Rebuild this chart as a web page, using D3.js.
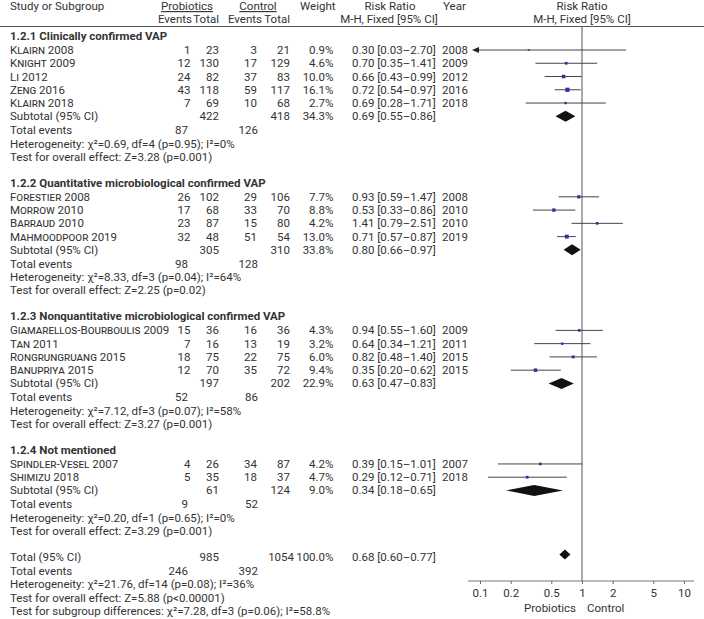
<!DOCTYPE html>
<html>
<head>
<meta charset="utf-8">
<script src="https://cdn.jsdelivr.net/npm/d3@7"></script>
<style>
  body { margin: 0; background: #fff; }
  text { font-family: Roboto, "Noto Sans", sans-serif; font-size: 11.5px; fill: #333; }
  .sc { font-variant: small-caps; }
</style>
</head>
<body>
<div id="wrapper"></div>
<script>
// subgroups
const groupNames = [
  "1.2.1 Clinically confirmed VAP",
  "1.2.2 Quantitative microbiological confirmed VAP",
  "1.2.3 Nonquantitative microbiological confirmed VAP",
  "1.2.4 Not mentioned"
];

// studies
const studyGroup  = [0, 0, 0, 0, 0, 1, 1, 1, 1, 2, 2, 2, 2, 3, 3];
const studyAuthor = ["Klairn", "Knight", "Li", "Zeng", "Klairn", "Forestier", "Morrow", "Barraud", "Mahmoodpoor",
                     "Giamarellos-Bourboulis", "Tan", "Rongrungruang", "Banupriya", "Spindler-Vesel", "Shimizu"];
const studyYear   = [2008, 2009, 2012, 2016, 2018, 2008, 2010, 2010, 2019, 2009, 2011, 2015, 2015, 2007, 2018];
const probEvents  = [1, 12, 24, 43, 7, 26, 17, 23, 32, 15, 7, 18, 12, 4, 5];
const probTotal   = [23, 130, 82, 118, 69, 102, 68, 87, 48, 36, 16, 75, 70, 26, 35];
const ctrlEvents  = [3, 17, 37, 59, 10, 29, 33, 15, 51, 16, 13, 22, 35, 34, 18];
const ctrlTotal   = [21, 129, 83, 117, 68, 106, 70, 80, 54, 36, 19, 75, 72, 87, 37];
const weight      = [0.9, 4.6, 10.0, 16.1, 2.7, 7.7, 8.8, 4.2, 13.0, 4.3, 3.2, 6.0, 9.4, 4.2, 4.7];
const rr          = [0.30, 0.70, 0.66, 0.72, 0.69, 0.93, 0.53, 1.41, 0.71, 0.94, 0.64, 0.82, 0.35, 0.39, 0.29];
const rrLo        = [0.03, 0.35, 0.43, 0.54, 0.28, 0.59, 0.33, 0.79, 0.57, 0.55, 0.34, 0.48, 0.20, 0.15, 0.12];
const rrHi        = [2.70, 1.41, 0.99, 0.97, 1.71, 1.47, 0.86, 2.51, 0.87, 1.60, 1.21, 1.40, 0.62, 1.01, 0.71];

// subtotals
const subProbTotal  = [422, 305, 197, 61];
const subCtrlTotal  = [418, 310, 202, 124];
const subWeight     = [34.3, 33.8, 22.9, 9.0];
const subRR         = [0.69, 0.80, 0.63, 0.34];
const subLo         = [0.55, 0.66, 0.47, 0.18];
const subHi         = [0.86, 0.97, 0.83, 0.65];
const subProbEvents = [87, 98, 52, 9];
const subCtrlEvents = [126, 128, 86, 52];
const hetChi = ["0.69", "8.33", "7.12", "0.20"];
const hetDf  = [4, 3, 3, 1];
const hetP   = ["0.95", "0.04", "0.07", "0.65"];
const hetI2  = ["0", "64", "58", "0"];
const effZ   = ["3.28", "2.25", "3.27", "3.29"];
const effP   = ["p=0.001", "p=0.02", "p=0.001", "p=0.001"];

// overall
const totProbTotal = 985, totCtrlTotal = 1054, totWeight = "100.0";
const totRR = [0.68, 0.60, 0.77];
const totEvents = [246, 392];
const totHet = ["21.76", 14, "0.08", "36"];
const totEff = ["5.88", "p<0.00001"];
const subDiff = ["7.28", 3, "0.06", "58.8"];

// axis
const tickValues = [0.1, 0.2, 0.5, 1, 2, 5, 10];
const tickLabels = ["0.1", "0.2", "0.5", "1", "2", "5", "10"];

const W = 704, H = 619;
const svg = d3.select("#wrapper").append("svg").attr("width", W).attr("height", H);
svg.append("rect").attr("width", W).attr("height", H).attr("fill", "#fff");

const x = d3.scaleLog().domain([0.1, 10]).range([480, 684]);
const sq = d3.scaleSqrt().domain([0, 16.1]).range([1, 4.2]);
const f2 = v => v.toFixed(2);
const ci = (a, b, c) => `${f2(a)} [${f2(b)}–${f2(c)}]`;

// columns
const col = { name: 10, pe: 190.5, pt: 219, ce: 257, ct: 290, w: 333.5, rr: 352, yr: 442 };

function txt(xp, yp, s, anchor) {
  return svg.append("text").attr("x", xp).attr("y", yp).attr("dy", "0.35em")
    .attr("text-anchor", anchor || "start").text(s);
}

// header
txt(col.name, 6, "Study or Subgroup");
txt(187, 6, "Probiotics", "middle").style("text-decoration", "underline");
txt(258, 6, "Control", "middle").style("text-decoration", "underline");
txt(300, 6, "Weight");
txt(390, 6, "Risk Ratio", "middle");
txt(443, 6, "Year");
txt(582, 6, "Risk Ratio", "middle");
txt(192, 19, "Events", "end");
txt(col.pt, 19, "Total", "end");
txt(262, 19, "Events", "end");
txt(col.ct, 19, "Total", "end");
txt(389, 19, "M-H, Fixed [95% CI]", "middle");
txt(582, 19, "M-H, Fixed [95% CI]", "middle");

svg.append("line").attr("x1", 0).attr("x2", W).attr("y1", 26.5).attr("y2", 26.5)
  .attr("stroke", "#555").attr("stroke-width", 1);

// no-effect line
svg.append("line").attr("x1", x(1)).attr("x2", x(1)).attr("y1", 27).attr("y2", 581)
  .attr("stroke", "#555").attr("stroke-width", 1);

const plot = svg.append("g");

function diamond(yp, lo, mid, hi, h) {
  plot.append("path")
    .attr("d", `M${x(lo)},${yp} L${x(mid)},${yp - h} L${x(hi)},${yp} L${x(mid)},${yp + h} Z`)
    .attr("fill", "#111");
}

const step = 13.26;
let y = 36;

groupNames.forEach((g, gi) => {
  txt(col.name, y, g).attr("font-weight", "bold");
  y += 14;
  d3.range(studyGroup.length).filter(i => studyGroup[i] === gi).forEach(i => {
    const t = txt(col.name, y, "");
    t.append("tspan").attr("class", "sc").text(studyAuthor[i]);
    t.append("tspan").text(" " + studyYear[i]);
    txt(col.pe, y, probEvents[i], "end");
    txt(col.pt, y, probTotal[i], "end");
    txt(col.ce, y, ctrlEvents[i], "end");
    txt(col.ct, y, ctrlTotal[i], "end");
    txt(col.w, y, weight[i].toFixed(1) + "%", "end");
    txt(col.rr, y, ci(rr[i], rrLo[i], rrHi[i]));
    txt(col.yr, y, studyYear[i]);

    const lo = Math.max(rrLo[i], 0.1);
    const x0 = rrLo[i] < 0.1 ? 478 : x(lo);
    plot.append("line").attr("x1", x0).attr("x2", x(Math.min(rrHi[i], 10)))
      .attr("y1", y).attr("y2", y).attr("stroke", "#444").attr("stroke-width", 1);
    if (rrLo[i] < 0.1) {
      plot.append("path").attr("d", `M472,${y} L479,${y - 3} L479,${y + 3} Z`).attr("fill", "#222");
    }
    const s = sq(weight[i]);
    plot.append("rect").attr("x", x(rr[i]) - s / 2).attr("y", y - s / 2)
      .attr("width", s).attr("height", s).attr("fill", "#2a35a0");
    y += step;
  });
  txt(col.name, y, "Subtotal (95% CI)");
  txt(col.pt, y, subProbTotal[gi], "end");
  txt(col.ct, y, subCtrlTotal[gi], "end");
  txt(col.w, y, subWeight[gi].toFixed(1) + "%", "end");
  txt(col.rr, y, ci(subRR[gi], subLo[gi], subHi[gi]));
  diamond(y, subLo[gi], subRR[gi], subHi[gi], 5.5);
  y += 14;
  txt(col.name, y, "Total events");
  txt(188, y, subProbEvents[gi], "end");
  txt(258, y, subCtrlEvents[gi], "end");
  y += step;
  txt(col.name, y, `Heterogeneity: χ²=${hetChi[gi]}, df=${hetDf[gi]} (p=${hetP[gi]}); I²=${hetI2[gi]}%`);
  y += step;
  txt(col.name, y, `Test for overall effect: Z=${effZ[gi]} (${effP[gi]})`);
  y += 26;
});

// overall
txt(col.name, y, "Total (95% CI)");
txt(col.pt, y, totProbTotal, "end");
txt(294, y, totCtrlTotal, "end");
txt(col.w, y, totWeight + "%", "end");
txt(col.rr, y, ci(totRR[0], totRR[1], totRR[2]));
diamond(y - 2.5, totRR[1], totRR[0], totRR[2], 5);
y += 14;
txt(col.name, y, "Total events");
txt(188, y, totEvents[0], "end");
txt(258, y, totEvents[1], "end");
y += step;
txt(col.name, y, `Heterogeneity: χ²=${totHet[0]}, df=${totHet[1]} (p=${totHet[2]}); I²=${totHet[3]}%`);
y += step;
txt(col.name, y, `Test for overall effect: Z=${totEff[0]} (${totEff[1]})`);
y += step;
txt(col.name, y, `Test for subgroup differences: χ²=${subDiff[0]}, df=${subDiff[1]} (p=${subDiff[2]}); I²=${subDiff[3]}%`);

// axis
const ax = svg.append("g").attr("transform", "translate(0,581)")
  .call(d3.axisBottom(x).tickValues(tickValues).tickFormat((d, i) => tickLabels[i]).tickSize(3).tickSizeOuter(0));
ax.select(".domain").remove();
ax.selectAll(".tick line").attr("stroke", "#666");
ax.selectAll(".tick text").attr("dy", null).attr("y", 12).attr("dominant-baseline", "central")
  .style("font-family", "Roboto, sans-serif").style("font-size", "11.5px").attr("fill", "#333");
ax.append("line").attr("x1", 468).attr("x2", 694).attr("stroke", "#777").attr("stroke-width", 1.2);
txt(576, 608, "Probiotics", "end");
txt(587, 608, "Control");
</script>
</body>
</html>
